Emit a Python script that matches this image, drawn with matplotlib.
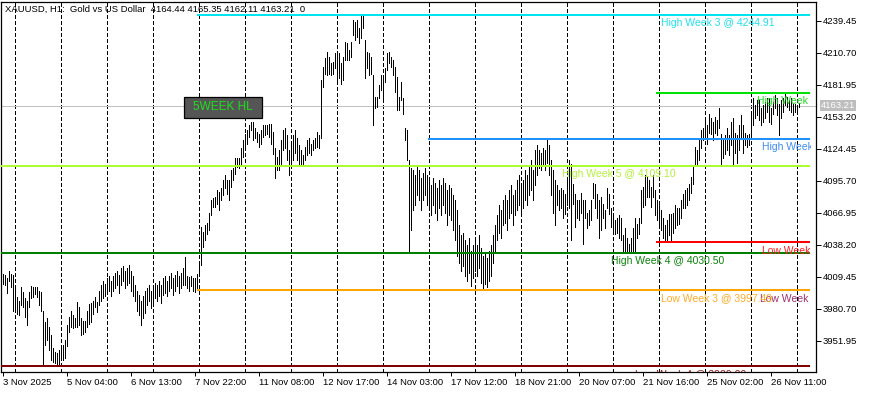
import matplotlib
matplotlib.use("Agg")
import matplotlib.pyplot as plt
import numpy as np
from matplotlib.patches import Rectangle
import matplotlib.transforms as mtransforms

W, H, DPI = 869, 393, 100
plt.rcParams['font.family'] = ['Liberation Sans', 'DejaVu Sans']

# ---------------- data (H1 bars, high / low) ----------------
highs = [
    4012,4011,4008,4015,4012,4011,3999,3991,3988,4000, 3996,3990,3988,3996,4001,4000,4000,4000,3997,3996,
    3979,3969,3972,3964,3957,3945,3942,3941,3944,3945, 3948,3953,3966,3973,3979,3975,3972,3987,3982,3972,
    3970,3970,3979,3985,3986,3988,3991,3987,
    3997,4002,4006,4003,4008,4010,4006,4010,4013,4015, 4011,4017,4019,4015,4017,4020,4015,4010,4002,3997,
    3993,3988,3992,3997,3999,4002,3997,3999,4004,4002, 4006,4002,4008,4010,4006,4010,4013,4008,4011,4015,
    4010,4013,4017,4027,4010,4009,4010,4008,4008,4012, 4024,
    4054,4050,4055.5,4058,4067,4078,4080,4081,4087,4085.5, 4089,4096,4100.5,4096,4096,4105,4107,4116,4116,4116,
    4125,4132,4138,4141,4145.5,4148.5,4148.5,4143,4139.5,4138, 4141,4145.5,4145.5,4145.5,4147,4147,4139.5,4125,4117,
    4123,4132,4141,4143,4136.5,4123,4127.5,4136.5,4141,4134,4127.5,4123,
    4119,4126,4132,4134,4129,4132,4134,4139.5,4136.5,4186, 4198,4206,4211.5,4207,4201,4202.5,4210,4210,4210,4201,
    4207,4220.5,4219,4213,4220.5,4240,4238.5,4240,4233,4244.5, 4244.91,4222,4211.5,4210,4207,4190.5,4171,4171,4181.5,4190.5,
    4190.5,4197,4210,4211.5,4207,4204,4198,4189,4171,4184.5, 4170,4143,4141,
    4114,4107,4105,4100.5,4109.5,4105,4098,4103,4107,4100.5, 4096,4091.5,4098,4094,4089,4096,4091.5,4098,4094,4087,
    4091.5,4089,4082.5,4078,4069,4055.5,4046.5,4049,4042,4037.5, 4044,4033,4037.5,4042,4037.5,4046.5,4035,4028.5,4031,4026,
    4033,4037.5,4046.5,4055.5,4064.5,4073.5,4069,4078,4082.5,4078, 4087,4091.5,4082.5,4087,4096,4100.5,4091.5,4096,4105,4100.5,
    4109.5,4114,4105,4123,4127.5,
    4123,4121,4125,4123,4133,4127.5,4114,4105,4096,4091.5, 4087,4089,4087,4084,4096,4114,4111,4093,4084,4078,
    4078,4085,4078,4078,4067,4069,4078,4094,4093,4084, 4078,4081,4075,4069,4089,4084,4071,4067,4060,4062,
    4064.5,4062,4046.5,4053.5,4044.5,4039,4044.5,4053.5,4062.5,4057, 4062,4087,4090,4100.5,4099,4096,4090,4100.5,4087,4078,
    4076,4069,4062.5,4055.5,4060,4066,4066,4067,4073.5,4071, 4071,4078,4084,4087,4089,4093,4099,4108,4126,
    4123,4132,4141,4143.5,4152.5,4145.5,4156,4152,4148,4152.5, 4150,4161,4138,4134,4136.5,4143,4136.5,4148,4152,4139,
    4136.5,4145.5,4154.5,4145.5,4139,4136.5,4138,4154.5,4170,4163.5, 4168,4168,4161,4163.5,4166,4170,4170,4161,4166,4172.5,
    4170,4165,4168,4170,4174.52,4171,4168,4170,4165,4165, 4164,4165.35,
]
lows = [
    4003,4002,3995,4006,4000,3979,3979,3976,3975,3984, 3982,3973,3966,3982,3990,3991,3994,3991,3984,3979,
    3930,3948,3953,3944,3935,3933,3932,3930,3929.2,3935, 3935,3936,3947,3960,3964,3963,3964,3964,3966,3957,
    3958,3960,3964,3967,3969,3976,3982,3978,
    3984,3988,3990,3992,3995,3997,3992,3997,3999,4002, 3995,4002,4006,3999,4002,4004,3997,3992,3988,3979,
    3975,3966,3972,3977,3984,3988,3981,3986,3990,3988, 3992,3986,3993,3995,3992,3997,3999,3993,3997,4001,
    3995,3999,4002,4002,3999,3997,4001,3997,3996,3997.49, 4010,
    4020,4036,4042,4048,4051,4064.5,4072,4072,4075,4069, 4078,4082.5,4089,4084,4078,4090,4096,4102,4108,4107,
    4109.5,4117,4123,4129,4135,4141,4132,4134,4130.5,4126, 4129,4135,4136.5,4138,4135,4129,4120,4098,4105,
    4105,4109.5,4123,4125,4114,4100.5,4107,4114,4121,4114,4109.5,4111,
    4109.5,4114,4118.5,4121,4118.5,4123,4125,4126,4125,4134, 4180,4192,4190.5,4192,4190.5,4192,4197,4184.5,4188,4183,
    4186,4204,4204,4204,4207,4226.5,4222,4225,4219,4224, 4233,4188,4197,4190.5,4192,4145.5,4161,4162,4170,4177,
    4170,4184.5,4195,4201,4198,4190.5,4175.5,4159,4159,4168, 4156,4132,4114,
    4031,4051,4069,4073.5,4082.5,4078,4069,4078,4082.5,4073.5, 4069,4064.5,4073.5,4067,4060,4071,4064.5,4073.5,4067,4055.5,
    4064.5,4060,4051,4042,4028.5,4022,4015,4019.5,4010.5,4006, 4013,4001.5,4008,4015,4010.5,4017,4004,3997.8,4002.5,4000,
    4006,4010.5,4022,4033,4042,4049,4044,4055.5,4058,4051, 4062,4067,4055.5,4064.5,4069,4073.5,4064.5,4071,4078,4073.5,
    4082.5,4087,4078,4091.5,4100.5,
    4107,4105,4109.5,4105,4112,4100.5,4082.5,4067,4055.5,4073.5, 4069,4071.5,4062.5,4066,4073.5,4071.5,4042,4075,4054,4062.5,
    4060,4067,4039,4062.5,4053.5,4055.5,4060,4080.5,4071.5,4062.5, 4044.5,4051,4062.5,4053,4071,4066,4054,4051,4048,4049,
    4044.5,4042,4033,4031,4033,4033,4033,4031,4031,4044, 4048,4058,4072,4073.5,4081,4081,4072,4081,4064.5,4060,
    4053.5,4051,4044,4040.63,4042,4046.5,4042,4049,4053.5,4055.5, 4057,4062.5,4071,4071.5,4073.5,4078,4085,4093,4109.5,
    4111,4114,4125.5,4132,4136.5,4129,4139,4138,4132,4139, 4136.5,4143,4111,4116,4120,4123,4118.5,4127.5,4109.5,4121,
    4112,4123,4134,4121,4127.5,4126,4127.5,4134,4145.5,4152, 4154.5,4150,4145.5,4148,4152,4157,4148,4147,4156,4161,
    4154.5,4136.5,4152,4157,4163.5,4162,4159,4157,4154.5,4157, 4159,4162.11,
]
assert len(highs) == len(lows)

title = "XAUUSD, H1:  Gold vs US Dollar  4164.44 4165.35 4162.11 4163.21  0"
bid = 4163.21
x_tick_labels = ["3 Nov 2025", "5 Nov 04:00", "6 Nov 13:00", "7 Nov 22:00", "11 Nov 08:00",
                 "12 Nov 17:00", "14 Nov 03:00", "17 Nov 12:00", "18 Nov 21:00", "20 Nov 07:00",
                 "21 Nov 16:00", "25 Nov 02:00", "26 Nov 11:00"]
y_ticks = [4239.45, 4210.70, 4181.95, 4153.20, 4124.45, 4095.70, 4066.95,
           4038.20, 4009.45, 3980.70, 3951.95]

level_names = ["High Week 3 @ 4244.91", "High Week 1 @ 4174.52", "High Week 2 @ 4133.20",
               "High Week 5 @ 4109.10", "Low Week 1 @ 4040.63", "High Week 4 @ 4030.50",
               "Low Week 2 @ 3997.80", "Low Week 3 @ 3997.49", "Low Week 4 @ 3929.20"]
level_values = [4244.91, 4174.52, 4133.20, 4109.10, 4040.63, 4030.50, 3997.80, 3997.49, 3929.20]
level_start = [97, 326.5, 212.5, None, 326.5, None, 212.5, 97, None]
level_label_at = [329, 377, 379.5, 279.5, 379.5, 304, 378.5, 329, 316]
level_colors = ["#00E4F0", "#00E000", "#1E90FF", "#ADFF2F", "#FF0000", "#008000",
                "#9E2E6E", "#FFA500", "#800000"]
text_colors = ["#22E0EE", "#1ED81E", "#3C8CF0", "#B4F03C", "#FF1E1E", "#0A820A",
               "#9E2E6E", "#FFAA28", "#8B1A1A"]

# ---------------- figure ----------------
fig = plt.figure(figsize=(W / DPI, H / DPI), dpi=DPI, facecolor="white")
ax_l, ax_r, ax_t, ax_b = 1, 816, 2, 372
ax = fig.add_axes([ax_l / W, 1 - ax_b / H, (ax_r - ax_l) / W, (ax_b - ax_t) / H])
ax.set_facecolor("white")

n = len(highs)
xi = np.arange(n)
ax.set_xlim(-1, 406.5)
ax.set_ylim(3923.85, 4256.25)

# vertical dashed grid
for gx in np.arange(6, 406, 23):
    ax.axvline(gx, color="black", lw=0.72, linestyle=(0, (3, 2.5)), zorder=1, antialiased=False)

# bid line
ax.axhline(bid, color="#C0C0C0", lw=0.72, zorder=1.5, antialiased=False)

# bars
ax.vlines(xi, lows, highs, color="black", lw=0.72, zorder=2, antialiased=False)

# week levels (week 2 low drawn first so week 3 low covers it)
end_x = 403.5
order = [6, 0, 1, 2, 3, 4, 5, 7, 8]
for k in order:
    st = level_start[k]
    x0 = -1 if st is None else st
    ax.hlines(level_values[k], x0, end_x, color=level_colors[k], lw=1.44, zorder=3,
              antialiased=False)
text_clip = mtransforms.Bbox.from_extents(ax_l, H - ax_b, 811, H - ax_t)
for k in order:
    t = ax.annotate(level_names[k], xy=(level_label_at[k], level_values[k]),
                    xytext=(0, -5.8), textcoords="offset points",
                    ha="left", va="center", fontsize=7.5, color=text_colors[k], zorder=4,
                    annotation_clip=False)
    t.set_clip_on(True)
    t.set_clip_box(text_clip)

# axes style
for s in ax.spines.values():
    s.set_color("black")
    s.set_linewidth(0.9)
ax.yaxis.tick_right()
ax.set_yticks(y_ticks)
ax.set_yticklabels([f"{v:.2f}" for v in y_ticks])
ax.set_xticks(np.arange(len(x_tick_labels)) * 32)
ax.set_xticklabels(x_tick_labels)
for lbl in ax.get_xticklabels():
    lbl.set_horizontalalignment("left")
ax.tick_params(axis="y", direction="out", length=3.6, width=0.72, pad=1.2,
               labelsize=6.8, colors="black")
ax.tick_params(axis="x", direction="out", length=3.0, width=0.72, pad=1.5,
               labelsize=6.8, colors="black")

# bid price tag on the price scale
trans = mtransforms.blended_transform_factory(ax.transAxes, ax.transData)
ax.annotate(f"{bid:.2f}", xy=(1, bid), xycoords=trans, xytext=(3.6, 0),
            textcoords="offset points", ha="left", va="center", fontsize=6.8,
            color="white", annotation_clip=False,
            bbox=dict(boxstyle="square,pad=0.12", fc="#BEBEBE", ec="none"))

# chart title
fig.text(5 / W, 1 - 9 / H, title, ha="left", va="center", fontsize=6.8, color="black")

# 5WEEK HL button
fig.add_artist(Rectangle((184 / W, 1 - 118 / H), 78 / W, 21 / H, transform=fig.transFigure,
                         fc="#555555", ec="black", lw=0.9, zorder=10))
fig.text(223 / W, 1 - 107.5 / H, "5WEEK HL", ha="center", va="center", fontsize=8.5,
         color="#1EE01E", zorder=11)

fig.savefig("out.png", dpi=DPI, facecolor="white")
